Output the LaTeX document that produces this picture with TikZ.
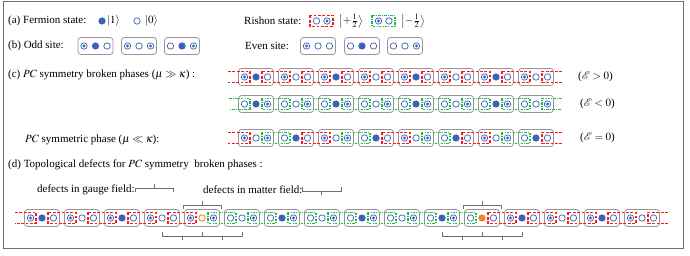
\documentclass[tikz,border=0pt]{standalone}
\usepackage{mathptmx}
\usepackage{fontspec}
\setmainfont{Liberation Serif}
\definecolor{fblue}{RGB}{58,98,184}
\definecolor{forange}{RGB}{240,128,48}
\definecolor{lred}{RGB}{250,25,25}
\definecolor{lgreen}{RGB}{25,190,70}
\definecolor{sitegray}{RGB}{150,150,150}
\definecolor{bgray}{RGB}{110,110,110}
\definecolor{framecol}{RGB}{110,110,110}
\newcommand{\dotcell}[3]{%
  \if#1F\fill[fblue] (#2,#3) circle[radius=3.6pt];\fi
  \if#1O\draw[fblue,line width=0.7pt] (#2,#3) circle[radius=3.2pt];\fi
  \if#1D\draw[fblue,line width=0.7pt] (#2,#3) circle[radius=3.2pt];\fill[fblue] (#2,#3) circle[radius=1.7pt];\fi
  \if#1P\fill[forange] (#2,#3) circle[radius=3.6pt];\fi
  \if#1Q\draw[forange,line width=0.8pt] (#2,#3) circle[radius=3.2pt];\fi}
\newcommand{\sitecell}[5]{%
  \draw[sitebox] (#1-17.5,#2-8.5) rectangle (#1+17.5,#2+8.5);
  \dotcell{#3}{#1-11.5}{#2}\dotcell{#4}{#1}{#2}\dotcell{#5}{#1+11.5}{#2}}
\newcommand{\linkcell}[4]{% colour letter, x of right rishon, x of next left rishon, y
  \if#1R\draw[redlink] (#2-5.5,#4-5.5) rectangle (#3+5.5,#4+5.5);\else
  \draw[greenlink] (#2-5.5,#4-5.5) rectangle (#3+5.5,#4+5.5);\fi}
\newcommand{\linkend}[4]{% colour letter, outer x, inner x, y
  \if#1R\draw[redlink] (#2,#4-5.5) -- (#3,#4-5.5) -- (#3,#4+5.5) -- (#2,#4+5.5);\else
  \draw[greenlink] (#2,#4-5.5) -- (#3,#4-5.5) -- (#3,#4+5.5) -- (#2,#4+5.5);\fi}
\newcommand{\braceup}[3]{% x1, x2, y: ends down, tick up
  \draw[bracestyle] (#1,#3+4) -- (#1,#3) -- (#2,#3) -- (#2,#3+4);
  \draw[bracestyle] ({(#1+#2)/2},#3) -- ({(#1+#2)/2},#3-4);}
\newcommand{\bracedn}[3]{% x1, x2, y: ends up, tick down
  \draw[bracestyle] (#1,#3-4) -- (#1,#3) -- (#2,#3) -- (#2,#3-4);
  \draw[bracestyle] ({(#1+#2)/2},#3) -- ({(#1+#2)/2},#3+4);}
\begin{document}
\begin{tikzpicture}[x=1pt,y=-1pt,font=\fontsize{11}{13}\selectfont,
  txt/.style={anchor=west,inner sep=0pt},
  sitebox/.style={draw=sitegray,line width=0.8pt,rounded corners=3pt},
  redlink/.style={draw=lred,line width=1.2pt,dash pattern=on 2.8pt off 1.6pt},
  greenlink/.style={draw=lgreen,line width=1.2pt,dash pattern=on 2.6pt off 1.2pt on 0.9pt off 1.2pt},
  bracestyle/.style={draw=bgray,line width=0.7pt}]
\useasboundingbox (0,0) rectangle (690,256);
\draw[framecol,line width=1pt] (3,2) rectangle (683,249);
% (a)
\node[txt] (la) at (8,21) {(a) Fermion state:};
\dotcell{F}{102}{21}
\node[txt] (k1) at (107,21) {$|1\rangle$};
\dotcell{O}{137}{21}
\node[txt] (k0) at (145,21) {$|0\rangle$};
\node[txt] (lr) at (244,21) {Rishon state:};
\draw[redlink] (310,15.5) rectangle (333,26.5);
\dotcell{O}{316.5}{21}\dotcell{D}{327}{21}
\node[txt] (kp) at (339,21) {$\left|+\frac{1}{2}\right\rangle$};
\draw[greenlink] (372,15.5) rectangle (395,26.5);
\dotcell{D}{378.5}{21}\dotcell{O}{389}{21}
\node[txt] (km) at (401,21) {$\left|-\frac{1}{2}\right\rangle$};
% (b)
\node[txt] (lb) at (8,46) {(b) Odd site:};
\sitecell{95.5}{46}{D}{F}{O}
\sitecell{139}{46}{D}{O}{D}
\sitecell{182}{46}{O}{F}{D}
\node[txt] (le) at (245,46) {Even site:};
\sitecell{318}{46}{D}{O}{O}
\sitecell{362}{46}{O}{F}{O}
\sitecell{405}{46}{O}{O}{D}
% (c)
\node[txt] (lc) at (8,75) {(c) $PC$ symmetry broken phases ($\mu\gg\kappa$) :};
\foreach \k/\ua/\ub/\uc in {0/D/F/O,1/D/O/O,2/D/F/O,3/D/O/O,4/D/F/O,5/D/O/O,6/D/F/O,7/D/O/O}{
  \sitecell{256+40*\k}{77}{\ua}{\ub}{\uc}}
\foreach \k in {0,...,6}{\linkcell{R}{256+40*\k+11.5}{256+40*\k+28.5}{77}}
\linkend{R}{228}{250}{77}
\linkend{R}{562}{542}{77}
\node[txt] (ep) at (578,77) {($\mathcal{E}>0$)};
\foreach \k/\ua/\ub/\uc in {0/O/F/D,1/O/O/D,2/O/F/D,3/O/O/D,4/O/F/D,5/O/O/D,6/O/F/D,7/O/O/D}{
  \sitecell{256+40*\k}{104}{\ua}{\ub}{\uc}}
\foreach \k in {0,...,6}{\linkcell{G}{256+40*\k+11.5}{256+40*\k+28.5}{104}}
\linkend{G}{229}{250}{104}
\linkend{G}{562}{542}{104}
\node[txt] (en) at (580,104) {($\mathcal{E}<0$)};
\node[txt] (ls) at (25,140) {$PC$ symmetric phase ($\mu\ll\kappa$):};
\foreach \k/\ua/\ub/\uc in {0/D/O/D,1/O/F/O,2/D/O/D,3/O/F/O,4/D/O/D,5/O/F/O,6/D/O/D,7/O/F/O}{
  \sitecell{256+40*\k}{138}{\ua}{\ub}{\uc}}
\foreach \k/\col in {0/G,1/R,2/G,3/R,4/G,5/R,6/G}{\linkcell{\col}{256+40*\k+11.5}{256+40*\k+28.5}{138}}
\linkend{R}{228}{250}{138}
\linkend{R}{562}{542}{138}
\node[txt] (ez) at (580,138) {($\mathcal{E}=0$)};
% (d)
\node[txt] (ld) at (8,165) {(d) Topological defects for $PC$ symmetry\ \ broken phases :};
\node[txt] (lg) at (37,190) {defects in gauge field:};
\braceup{135}{173}{188.5}
\node[txt] (lm) at (203,190) {defects in matter field:};
\bracedn{302}{341}{191}
\foreach \k/\ua/\ub/\uc in {0/D/F/O,1/D/O/O,2/D/F/O,3/D/O/O,4/D/Q/D,5/O/O/D,6/O/F/D,7/O/O/D,
  8/O/F/D,9/O/O/D,10/O/F/D,11/O/P/O,12/D/F/O,13/D/O/O,14/D/F/O,15/D/O/O}{
  \sitecell{42+40*\k}{218}{\ua}{\ub}{\uc}}
\foreach \k/\col in {0/R,1/R,2/R,3/R,4/G,5/G,6/G,7/G,8/G,9/G,10/G,11/R,12/R,13/R,14/R}{
  \linkcell{\col}{42+40*\k+11.5}{42+40*\k+28.5}{218}}
\linkend{R}{15}{36}{218}
\linkend{R}{668}{648}{218}
\braceup{183}{221}{205}
\bracedn{162}{202}{236.5}
\bracedn{202}{242}{236.5}
\braceup{463}{501}{205}
\bracedn{442}{482}{236.5}
\bracedn{482}{522}{236.5}
\end{tikzpicture}
\end{document}
